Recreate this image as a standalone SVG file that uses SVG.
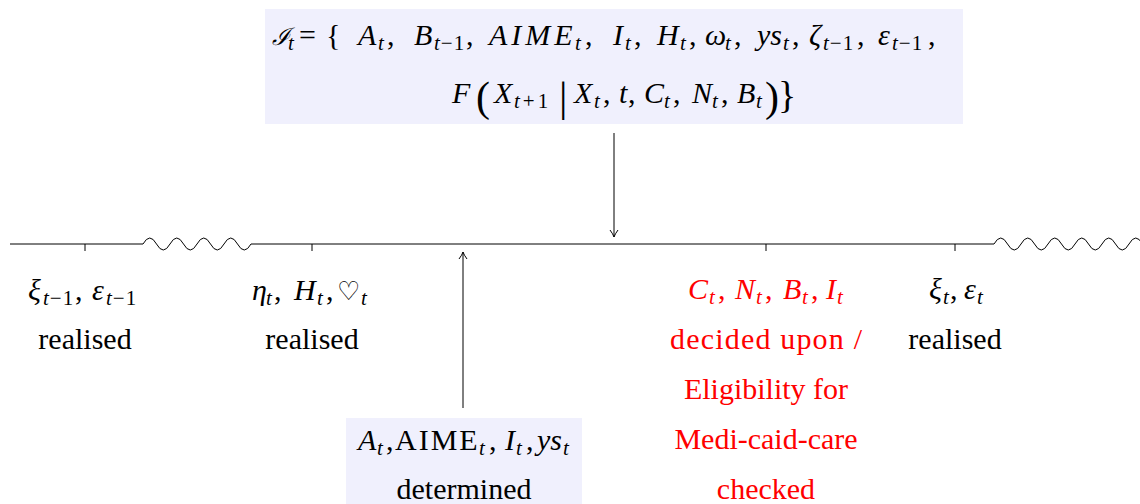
<svg xmlns="http://www.w3.org/2000/svg" width="1140" height="504" viewBox="0 0 1140 504" font-family="'Liberation Serif', 'DejaVu Serif', serif">
<style>
text { font-family: "Liberation Serif", "DejaVu Serif", serif; font-size: 30px; fill: #000; }
.i { font-style: italic; }
.s { font-size: 21px; }
.b { font-size: 42px; }
.r { fill: #ff0000; }
.box { fill: #f0f0fd; stroke: none; }
.ln { fill: none; stroke: #000; stroke-width: 1; }
</style>
<defs>
<marker id="ah" markerWidth="12" markerHeight="12" refX="10" refY="6" orient="auto" markerUnits="userSpaceOnUse">
<path d="M3,2 Q7,5 10,6 Q7,7 3,10" fill="none" stroke="#000" stroke-width="1"/>
</marker>
</defs>
<rect width="1140" height="504" fill="#fff"/>

<g id="info-set">
<rect class="box" x="265" y="9" width="698" height="115"/>
<text y="45"><tspan class="i" x="272" font-size="24">ℐ</tspan><tspan class="s i" x="288" y="50">t</tspan><tspan x="299" y="45">=</tspan><tspan x="326">{</tspan><tspan class="i" x="358">A</tspan><tspan class="s i" x="378" y="50">t</tspan><tspan x="387" y="45">,</tspan><tspan class="i" x="414">B</tspan><tspan class="s" x="434" y="50" letter-spacing="1"><tspan class="i">t</tspan>−1</tspan><tspan x="466" y="45">,</tspan><tspan class="i" x="489" letter-spacing="4">AIME</tspan><tspan class="s i" x="575" y="50">t</tspan><tspan x="585" y="45">,</tspan><tspan class="i" x="613">I</tspan><tspan class="s i" x="625" y="50">t</tspan><tspan x="634" y="45">,</tspan><tspan class="i" x="657">H</tspan><tspan class="s i" x="680" y="50">t</tspan><tspan x="689" y="45">,</tspan><tspan class="i" x="705">ω</tspan><tspan class="s i" x="725" y="50">t</tspan><tspan x="734" y="45">,</tspan><tspan class="i" x="757">ys</tspan><tspan class="s i" x="783" y="50">t</tspan><tspan x="792" y="45">,</tspan><tspan class="i" x="809">ζ</tspan><tspan class="s" x="823" y="50" letter-spacing="1"><tspan class="i">t</tspan>−1</tspan><tspan x="857" y="45">,</tspan><tspan class="i" x="878">ε</tspan><tspan class="s" x="892" y="50" letter-spacing="1"><tspan class="i">t</tspan>−1</tspan><tspan x="928" y="45">,</tspan></text>
<text y="103"><tspan class="i" x="452">F</tspan><tspan class="b" x="476" y="111">(</tspan><tspan class="i" x="494" y="103">X</tspan><tspan class="s" x="514" y="108" letter-spacing="3"><tspan class="i">t</tspan>+1</tspan><tspan class="b" x="559" y="111">|</tspan><tspan class="i" x="574" y="103">X</tspan><tspan class="s i" x="594" y="108">t</tspan><tspan x="603" y="103">,</tspan><tspan class="i" x="619">t</tspan><tspan x="628">,</tspan><tspan class="i" x="644">C</tspan><tspan class="s i" x="664" y="108">t</tspan><tspan x="673" y="103">,</tspan><tspan class="i" x="692">N</tspan><tspan class="s i" x="712" y="108">t</tspan><tspan x="721" y="103">,</tspan><tspan class="i" x="737">B</tspan><tspan class="s i" x="756" y="108">t</tspan><tspan class="b" x="765" y="111">)</tspan><tspan x="778" y="108" font-size="38">}</tspan></text>
</g>

<g id="timeline">
<path class="ln" d="M10,244 H143 q6.75,-12 13.5,0 q6.75,12 13.5,0 q6.75,-12 13.5,0 q6.75,12 13.5,0 q6.75,-12 13.5,0 q6.75,12 13.5,0 q6.75,-12 13.5,0 q6.75,12 13.5,0 H994 q6.75,-12 13.5,0 q6.75,12 13.5,0 q6.75,-12 13.5,0 q6.75,12 13.5,0 q6.75,-12 13.5,0 q6.75,12 13.5,0 q6.75,-12 13.5,0 q6.75,12 13.5,0 q6.75,-12 13.5,0 q6.75,12 13.5,0 q6.75,-12 13.5,0"/>
<path class="ln" d="M85,244 V251 M312,244 V251 M766,244 V251 M955,244 V251"/>
</g>

<g id="connectors">
<path class="ln" d="M614,133 V237" marker-end="url(#ah)"/>
<path class="ln" d="M463,408 V252" marker-end="url(#ah)"/>
</g>

<g id="prev-shocks">
<text y="300"><tspan class="i" x="28">ξ</tspan><tspan class="s" x="43" y="305" letter-spacing="1"><tspan class="i">t</tspan>−1</tspan><tspan x="75" y="300">,</tspan><tspan class="i" x="92">ε</tspan><tspan class="s" x="106" y="305" letter-spacing="1"><tspan class="i">t</tspan>−1</tspan></text>
<text x="85" y="349" text-anchor="middle">realised</text>
</g>

<g id="health-shocks">
<text y="300"><tspan class="i" x="252">η</tspan><tspan class="s i" x="266" y="305">t</tspan><tspan x="274" y="300">,</tspan><tspan class="i" x="294">H</tspan><tspan class="s i" x="317" y="305">t</tspan><tspan x="326" y="300">,</tspan><tspan x="337" font-size="26">♡</tspan><tspan class="s i" x="361" y="305">t</tspan></text>
<text x="312" y="349" text-anchor="middle">realised</text>
</g>

<g id="determined">
<rect class="box" x="346" y="418" width="236" height="86"/>
<text y="450"><tspan class="i" x="358">A</tspan><tspan class="s i" x="377" y="455">t</tspan><tspan x="386" y="450">,</tspan><tspan x="395" letter-spacing="2">AIME</tspan><tspan class="s i" x="479" y="455">t</tspan><tspan x="489" y="450">,</tspan><tspan class="i" x="505">I</tspan><tspan class="s i" x="516" y="455">t</tspan><tspan x="526" y="450">,</tspan><tspan class="i" x="537">ys</tspan><tspan class="s i" x="563" y="455">t</tspan></text>
<text x="464" y="499" text-anchor="middle">determined</text>
</g>

<g id="decisions">
<text class="r" y="299"><tspan class="i" x="688">C</tspan><tspan class="s i" x="709" y="304">t</tspan><tspan x="718" y="299">,</tspan><tspan class="i" x="735">N</tspan><tspan class="s i" x="756" y="304">t</tspan><tspan x="765" y="299">,</tspan><tspan class="i" x="783">B</tspan><tspan class="s i" x="802" y="304">t</tspan><tspan x="811" y="299">,</tspan><tspan class="i" x="826">I</tspan><tspan class="s i" x="837" y="304">t</tspan></text>
<text class="r" x="766" y="349" text-anchor="middle" textLength="192" lengthAdjust="spacing">decided upon /</text>
<text class="r" x="766" y="399" text-anchor="middle">Eligibility for</text>
<text class="r" x="766" y="449" text-anchor="middle">Medi-caid-care</text>
<text class="r" x="766" y="499" text-anchor="middle">checked</text>
</g>

<g id="current-shocks">
<text y="299"><tspan class="i" x="929">ξ</tspan><tspan class="s i" x="943" y="304">t</tspan><tspan x="950" y="299">,</tspan><tspan class="i" x="964">ε</tspan><tspan class="s i" x="977" y="304">t</tspan></text>
<text x="955" y="349" text-anchor="middle">realised</text>
</g>
</svg>
